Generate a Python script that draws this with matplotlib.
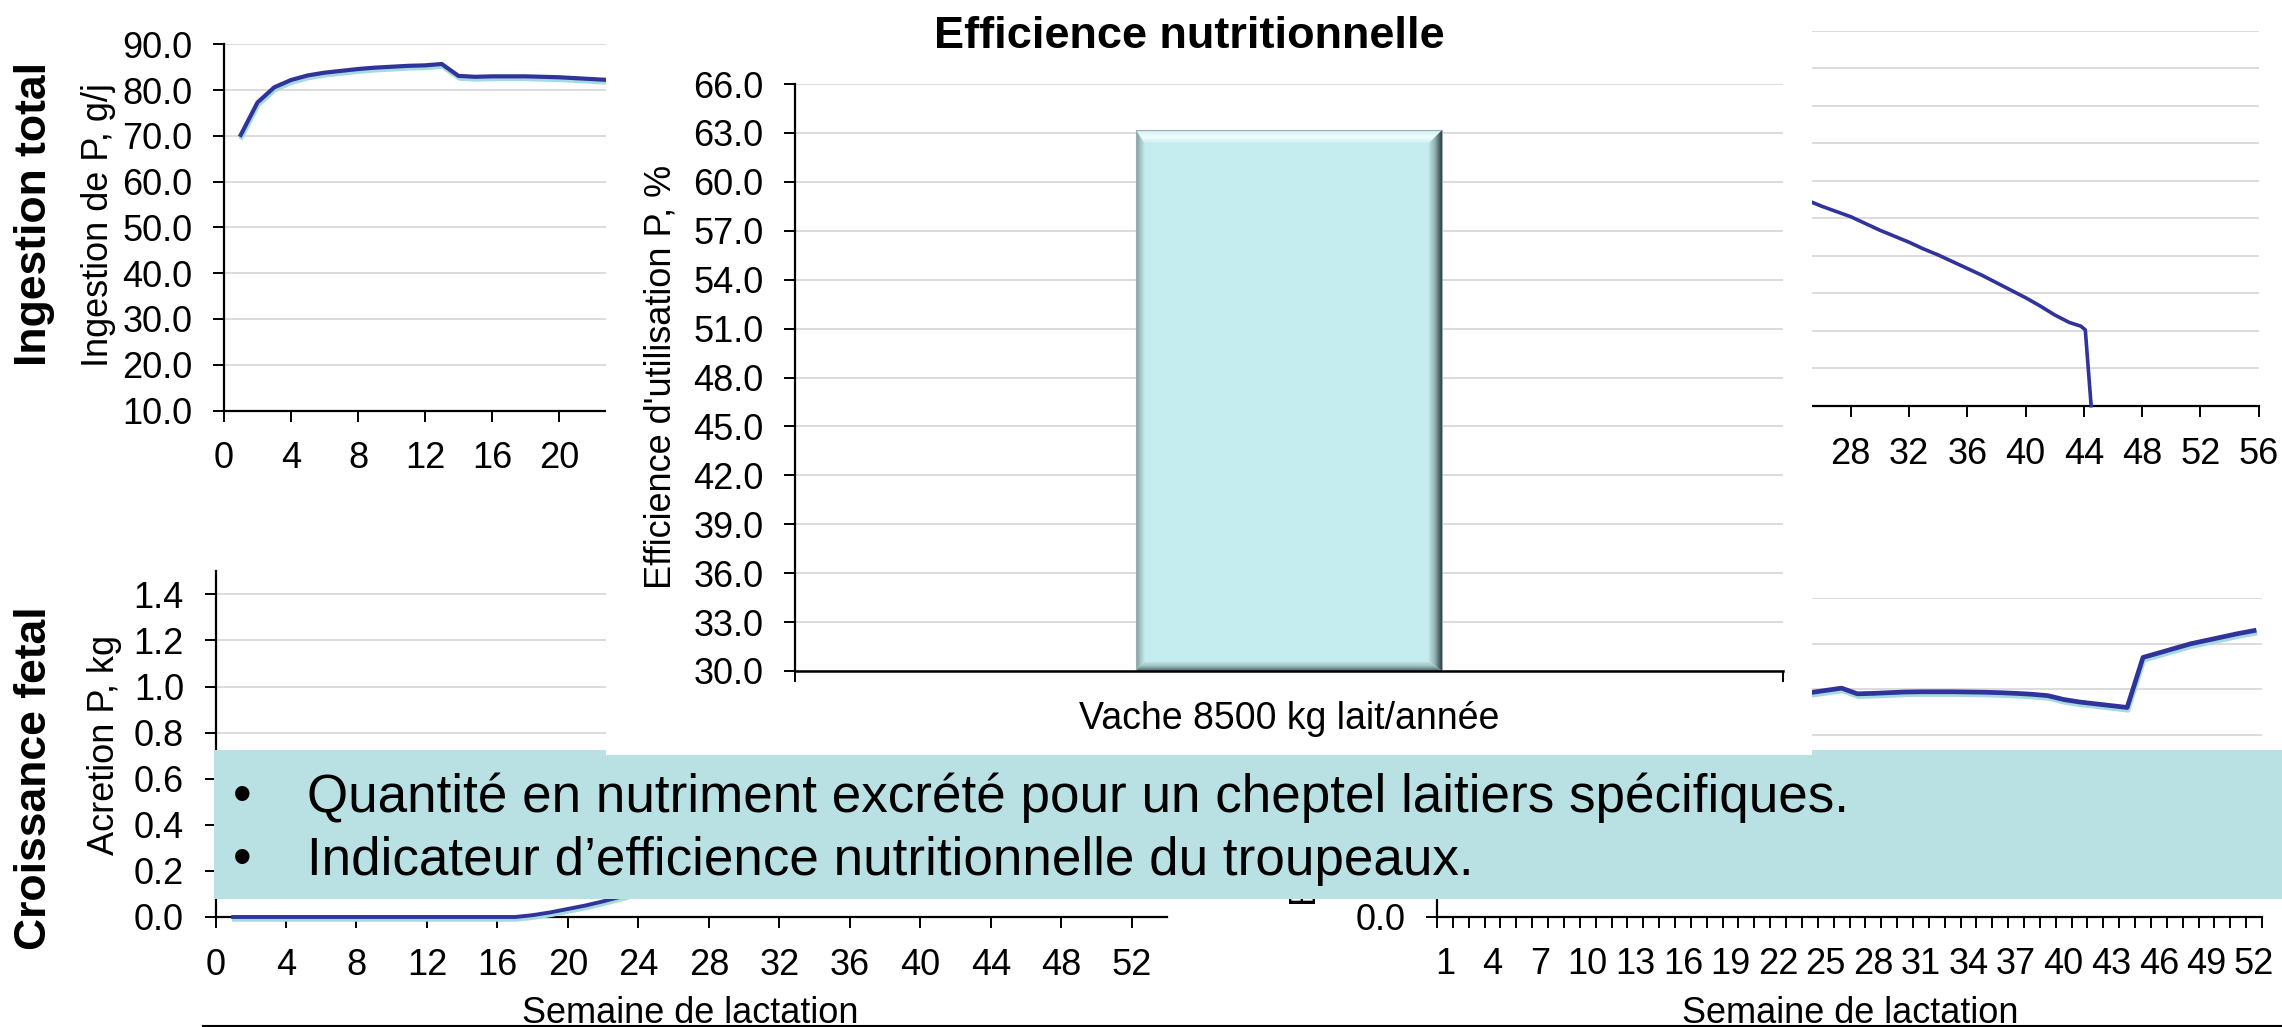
import numpy as np
import matplotlib
matplotlib.use('Agg')
import matplotlib.pyplot as plt
import matplotlib.patheffects as pe
from matplotlib.patches import Rectangle, Polygon
from matplotlib.lines import Line2D
from matplotlib.colors import LinearSegmentedColormap
from matplotlib.ticker import FormatStrFormatter

plt.rcParams['font.family'] = ['Liberation Sans', 'DejaVu Sans']

# --- data ---
# ingestion totale de P (haut gauche)
semaines_ingestion = [1, 2, 3, 4, 5, 6, 7, 8, 9, 10, 11, 12, 13, 14, 15, 16, 17, 18, 19, 20, 21, 22, 23, 24]
ingestion_p = [70.2, 77.3, 80.6, 82.2, 83.2, 83.8, 84.2, 84.6, 84.9, 85.1, 85.3, 85.4, 85.7, 83.1,
               82.9, 83.0, 83.0, 83.0, 82.9, 82.8, 82.6, 82.4, 82.2, 82.0]

# serie haut droite (en partie cachee)
semaines_lait = [24, 25, 26, 27, 28, 29, 30, 31, 32, 33, 34, 35, 36, 37, 38, 39, 40, 41, 42, 43, 43.8, 44.1, 44.5]
lait_p = [28.3, 27.4, 26.6, 25.9, 25.2, 24.3, 23.4, 22.6, 21.8, 20.9, 20.1, 19.2, 18.3, 17.4, 16.4,
          15.4, 14.4, 13.3, 12.1, 11.1, 10.6, 10.1, 0.0]

# croissance foetale (bas gauche)
semaines_foetus = [1, 2, 3, 4, 5, 6, 7, 8, 9, 10, 11, 12, 13, 14, 15, 16, 17, 18, 19, 20, 21, 22, 23, 24]
acretion_p = [0.0, 0.0, 0.0, 0.0, 0.0, 0.0, 0.0, 0.0, 0.0, 0.0, 0.0, 0.0, 0.0, 0.0, 0.0, 0.0,
              0.0, 0.008, 0.02, 0.035, 0.05, 0.068, 0.088, 0.11]

# serie bas droite (axe par categories 1..52)
semaines_cat = [23, 24, 25, 26, 27, 28, 29, 30, 31, 32, 33, 34, 35, 36, 37, 38, 39, 40, 41, 42,
                43, 44, 45, 46, 47, 48, 49, 50, 51, 52]
excretion_p = [0.985, 0.985, 0.995, 1.005, 0.98, 0.982, 0.985, 0.988, 0.989, 0.989, 0.989, 0.988,
               0.987, 0.985, 0.982, 0.978, 0.972, 0.955, 0.944, 0.936, 0.928, 0.920, 1.14, 1.16,
               1.18, 1.20, 1.215, 1.23, 1.245, 1.258]

# efficience (graphique central)
vaches = ["Vache 8500 kg lait/année"]
efficience = [63.2]

puces = ["Quantité en nutriment excrété pour un cheptel laitiers spécifiques.",
         "Indicateur d\u2019efficience nutritionnelle du troupeaux."]

BLUE = '#30339a'
GRID = '#d9d9d9'
TEAL = '#b9e0e3'

W, H = 2282, 1027
fig = plt.figure(figsize=(W / 100, H / 100), dpi=100)


def fx(x):
    return x / W


def fy(y):
    return 1 - y / H


def axes_px(left, top, right, bottom, z=0):
    ax = fig.add_axes([fx(left), fy(bottom), (right - left) / W, (bottom - top) / H])
    ax.set_zorder(z)
    ax.patch.set_alpha(0)
    return ax


def style(ax):
    for s in ['top', 'right']:
        ax.spines[s].set_visible(False)
    for s in ['left', 'bottom']:
        ax.spines[s].set_linewidth(1.6)
        ax.spines[s].set_color('black')
    ax.tick_params(direction='out', length=7.7, width=1.4, labelsize=26, colors='black')
    ax.tick_params(axis='x', pad=14.5)
    ax.tick_params(axis='y', pad=15)
    ax.yaxis.grid(True, color=GRID, lw=1.3)
    ax.set_axisbelow(True)


shadow = [pe.SimpleLineShadow(offset=(0.6, -2.0), shadow_color='#a3dbe0', alpha=1.0), pe.Normal()]

# haut gauche (la suite de l'axe est sous le cadre blanc)
ax1 = axes_px(224, 44.3, 1162, 410.5)
style(ax1)
ax1.plot(semaines_ingestion, ingestion_p, color=BLUE, lw=3.0, path_effects=shadow)
ax1.set_xlim(0, 56)
ax1.set_ylim(10, 90)
ax1.set_xticks(np.arange(0, 21, 4))
ax1.set_yticks(np.arange(10, 91, 10))
ax1.yaxis.set_major_formatter(FormatStrFormatter('%.1f'))

# haut droite (axe des y cache)
ax2 = axes_px(1442.7, 30.7, 2258.7, 405.7)
style(ax2)
ax2.plot(semaines_lait, lait_p, color=BLUE, lw=2.6, clip_on=False, zorder=3)
ax2.set_xlim(0, 56)
ax2.set_ylim(0, 50)
ax2.set_xticks(np.arange(28, 57, 4))
ax2.set_yticks(np.arange(0, 51, 5))
ax2.tick_params(axis='y', labelleft=False, left=False)

# bas gauche
ax3 = axes_px(215.5, 571.3, 1167, 917)
style(ax3)
ax3.plot(semaines_foetus, acretion_p, color=BLUE, lw=2.8, path_effects=shadow, clip_on=False, zorder=3)
ax3.set_xlim(0, 54)
ax3.set_ylim(0, 1.5)
ax3.set_xticks(np.arange(0, 53, 4))
ax3.set_yticks(np.arange(0, 1.41, 0.2))
ax3.yaxis.set_major_formatter(FormatStrFormatter('%.1f'))

# bas droite (seul 0.0 reste visible sous l'encadre)
ax4 = axes_px(1437, 598.3, 2262, 916.7)
style(ax4)
ax4.plot(semaines_cat, excretion_p, color=BLUE, lw=3.4, path_effects=shadow)
ax4.set_xlim(0.5, 52.5)
ax4.set_ylim(0, 1.4)
ax4.set_yticks(np.arange(0, 1.41, 0.2))
ax4.set_yticklabels(['0.0', '', '', '', '', '', '', ''])
ax4.set_xticks(np.arange(0.5, 53, 1))
ax4.set_xticklabels([])
cat_labels = list(range(1, 53, 3))
ax4.set_xticks(cat_labels, minor=True)
ax4.set_xticklabels([str(c) for c in cat_labels], minor=True)
ax4.tick_params(axis='x', which='minor', length=0, pad=21.8, labelsize=26)

# titres d'axes
fig.text(fx(35), fy(214), "Ingestion total", rotation=90, fontsize=32, fontweight='bold',
         ha='center', va='center')
fig.text(fx(98), fy(225), "Ingestion de P, g/j", rotation=90, fontsize=26, ha='center', va='center')
fig.text(fx(35), fy(778), "Croissance fetal", rotation=90, fontsize=32, fontweight='bold',
         ha='center', va='center')
fig.text(fx(105), fy(745), "Acretion P, kg", rotation=90, fontsize=26, ha='center', va='center')
fig.text(fx(1307), fy(906), "Excrétion P, kg", rotation=90, fontsize=26, ha='center',
         va='bottom', zorder=1)
fig.text(fx(690), fy(1023), "Semaine de lactation", fontsize=26, ha='center', va='baseline')
fig.text(fx(1850), fy(1023), "Semaine de lactation", fontsize=26, ha='center', va='baseline')

fig.add_artist(Line2D([fx(203), 1.0], [fy(1025.7), fy(1025.7)], transform=fig.transFigure,
                      color='black', lw=1.5))

# encadre turquoise
fig.add_artist(Rectangle((fx(214), fy(899)), (W - 214) / W, (899 - 750) / H,
                         transform=fig.transFigure, facecolor=TEAL, edgecolor='none', zorder=2.8))
for i, txt in enumerate(puces):
    base = 811.7 + i * 63.3
    fig.text(fx(242), fy(base), "\u2022", fontsize=38.2, ha='center', va='baseline', zorder=4)
    fig.text(fx(307), fy(base), txt, fontsize=38.2, ha='left', va='baseline', zorder=4)

# graphique central sur fond blanc
fig.add_artist(Rectangle((fx(606), fy(755)), (1812 - 606) / W, 755 / H,
                         transform=fig.transFigure, facecolor='white', edgecolor='none', zorder=3))
ax5 = axes_px(795, 84, 1783, 671, z=3.5)
style(ax5)
ax5.spines['bottom'].set_linewidth(1.8)
bars = ax5.bar([0], efficience, width=0.31, color='#c5ecee', edgecolor='none', zorder=2)
ax5.set_xlim(-0.5, 0.5)
ax5.set_ylim(30, 66)
ax5.set_yticks(np.arange(30, 66.1, 3))
ax5.yaxis.set_major_formatter(FormatStrFormatter('%.1f'))
ax5.set_xticks([-0.5, 0.5])
ax5.set_xticklabels([])
ax5.set_xticks([0], minor=True)
ax5.set_xticklabels(vaches, minor=True)
ax5.tick_params(axis='x', which='minor', length=0, pad=21.6, labelsize=27)
fig.text(fx(1189), fy(48), "Efficience nutritionnelle", fontsize=32.5, fontweight='bold',
         ha='center', va='baseline', zorder=4)
fig.text(fx(661), fy(377), "Efficience d'utilisation P, %", rotation=90, fontsize=26,
         ha='center', va='center', zorder=4)


def fill_gradient(ax, verts, colors, vertical):
    poly = Polygon(verts, closed=True, facecolor='none', edgecolor='none')
    ax.add_patch(poly)
    xs = [v[0] for v in verts]
    ys = [v[1] for v in verts]
    ramp = np.linspace(0, 1, 128)
    img = ramp[:, None] if vertical else ramp[None, :]
    cmap = LinearSegmentedColormap.from_list('bevel', colors)
    im = ax.imshow(img, cmap=cmap, extent=(min(xs), max(xs), min(ys), max(ys)), origin='lower',
                   aspect='auto', interpolation='bilinear', zorder=2.2)
    im.set_clip_path(poly)


# biseau de la barre, en pixels convertis en unites de donnees
rect = bars[0]
x0 = rect.get_x()
x1 = x0 + rect.get_width()
top = rect.get_height()
base = ax5.get_ylim()[0]
px_x = 1.0 / 988
px_y = 36.0 / 587
L, R, T, B = 9 * px_x, 14 * px_x, 14 * px_y, 10 * px_y
fill_gradient(ax5, [(x0, base), (x0, top), (x0 + L, top - T), (x0 + L, base + B)],
              ['#7d9fa1', '#c5ecee'], vertical=False)
fill_gradient(ax5, [(x1, base), (x1, top), (x1 - R, top - T), (x1 - R, base + B)],
              ['#c5ecee', '#8fb0b2', '#2f3c3d'], vertical=False)
fill_gradient(ax5, [(x0, top), (x1, top), (x1 - R, top - T), (x0 + L, top - T)],
              ['#c5ecee', '#f0feff', '#cdeff1'], vertical=True)
fill_gradient(ax5, [(x0, base), (x1, base), (x1 - R, base + B), (x0 + L, base + B)],
              ['#4f6566', '#9dbfc1', '#c5ecee'], vertical=True)
ax5.add_patch(Rectangle((x0, base), x1 - x0, top - base, facecolor='none', edgecolor='#9aaeb0',
                        lw=0.8, zorder=2.3))
ax5.set_xlim(-0.5, 0.5)
ax5.set_ylim(30, 66)

fig.savefig('out.png', dpi=100, facecolor='white')
